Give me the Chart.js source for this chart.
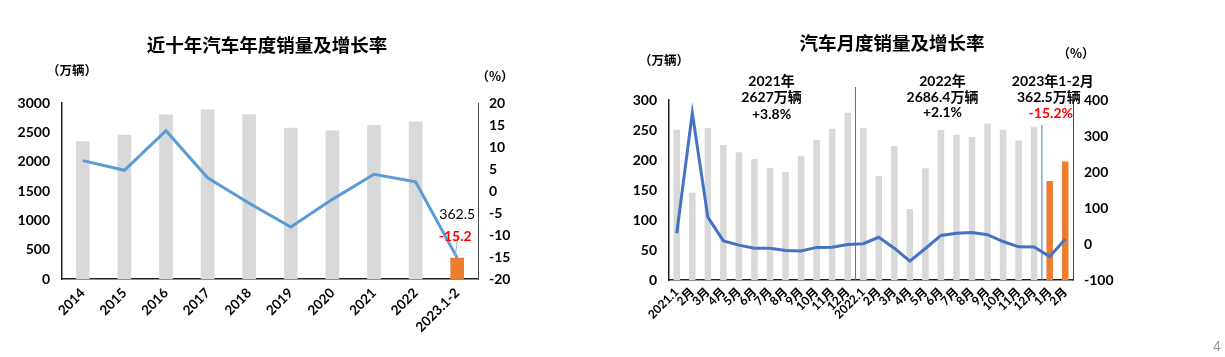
<!DOCTYPE html>
<html><head><meta charset="utf-8">
<script src="https://cdn.jsdelivr.net/npm/chart.js@4.4.0/dist/chart.umd.min.js"></script>
<style>
html,body{margin:0;padding:0;background:#fff;}
#wrap{position:relative;width:1225px;height:357px;overflow:hidden;}
#c1{position:absolute;left:0;top:0;}
#c2{position:absolute;left:610px;top:0;}
#pg{position:absolute;left:1213px;top:338px;font:14px 'Liberation Sans',sans-serif;color:#999;}
</style></head>
<body><div id="wrap">
<canvas id="c1" width="610" height="357"></canvas>
<canvas id="c2" width="615" height="357"></canvas>
<div id="pg">4</div>
</div>
<script>
// ---- Left chart data ----
const yearLabels = ['2014','2015','2016','2017','2018','2019','2020','2021','2022','2023.1-2'];
const yearSales = [2349, 2460, 2803, 2888, 2808, 2577, 2531, 2627, 2686, 362.5];
const yearGrowth = [6.9, 4.7, 13.7, 3.0, -2.8, -8.2, -1.9, 3.8, 2.1, -15.2];
const yearTicksLeft = [0, 500, 1000, 1500, 2000, 2500, 3000];
const yearTicksRight = [-20, -15, -10, -5, 0, 5, 10, 15, 20];

// ---- Right chart data ----
const monthLabels = ['2021.1','2月','3月','4月','5月','6月','7月','8月','9月','10月','11月','12月',
  '2022.1','2月','3月','4月','5月','6月','7月','8月','9月','10月','11月','12月','1月','2月'];
const monthSales = [250.3, 145.6, 253.3, 225.2, 212.8, 201.5, 186.4, 179.9, 207.1, 233.2, 252.2, 278.6,
  253.1, 173.7, 223.4, 118.1, 186.2, 250.2, 242.0, 238.3, 261.0, 250.5, 232.6, 255.6, 164.9, 197.6];
const monthGrowth = [29.9, 364.5, 74.6, 8.6, -3.1, -11.9, -11.9, -18.1, -19.6, -9.4, -9.1, -1.6,
  0.9, 18.7, -11.7, -47.6, -12.6, 23.8, 29.7, 32.1, 25.7, 6.9, -7.9, -8.4, -34.8, 13.5];
const monthTicksLeft = [0, 50, 100, 150, 200, 250, 300];
const monthTicksRight = [-100, 0, 100, 200, 300, 400];

const GRAY = '#D9D9D9', ORANGE = '#ED7D31';
const NUMFONT = "Lato, 'Noto Sans CJK SC', sans-serif";
const CJK = "'Noto Sans CJK SC', sans-serif";
const plain = v => String(v);

function txt(ctx, s, x, y, font, color, align) {
  ctx.save(); ctx.font = font; ctx.fillStyle = color || '#000';
  ctx.textAlign = align || 'center'; ctx.textBaseline = 'middle';
  ctx.fillText(s, x, y); ctx.restore();
}

// ---------- Left chart ----------
const leftDeco = {
  id: 'leftDeco',
  afterDraw(chart) {
    const ctx = chart.ctx;
    txt(ctx, '近十年汽车年度销量及增长率', 267, 45, "bold 18.5px " + CJK, '#000');
    txt(ctx, '（万辆）', 72, 70, "bold 12.5px " + CJK, '#000');
    txt(ctx, '（%）', 495, 76, "bold 12.5px " + CJK, '#000');
    const meta = chart.getDatasetMeta(1);
    const n = yearGrowth.length - 1;
    const p = meta.data[n];
    ctx.save(); ctx.strokeStyle = '#A6A6A6'; ctx.lineWidth = 1;
    ctx.beginPath(); ctx.moveTo(p.x - 2, p.y - 2); ctx.lineTo(p.x + 1, p.y - 23); ctx.stroke(); ctx.restore();
    txt(ctx, String(yearSales[n]), p.x, p.y - 43, "14px " + NUMFONT, '#000');
    txt(ctx, String(yearGrowth[n]), p.x - 2, p.y - 21, "bold 14px " + NUMFONT, '#FF0000');
  }
};

new Chart(document.getElementById('c1'), {
  data: {
    labels: yearLabels,
    datasets: [
      { type: 'bar', data: yearSales, yAxisID: 'y', order: 2,
        backgroundColor: yearSales.map((v, i) => i === yearSales.length - 1 ? ORANGE : GRAY),
        barPercentage: 0.33, categoryPercentage: 1.0 },
      { type: 'line', data: yearGrowth, yAxisID: 'y1', order: 1,
        borderColor: '#5B9BD5', borderWidth: 3, pointRadius: 0, tension: 0, fill: false }
    ]
  },
  options: {
    responsive: false, animation: false,
    layout: { padding: { top: 103, left: 0, right: 0, bottom: 0 } },
    plugins: { legend: { display: false }, tooltip: { enabled: false } },
    scales: {
      x: {
        grid: { display: false, drawTicks: false },
        border: { display: true, color: '#222', width: 1.5 },
        ticks: { color: '#000', font: { family: NUMFONT, size: 13.5, weight: 'bold' },
                 minRotation: 45, maxRotation: 45, padding: 6, autoSkip: false },
        afterFit(s) { s.height = 78; }
      },
      y: {
        position: 'left', min: 0, max: 3000,
        afterBuildTicks(s) { s.ticks = yearTicksLeft.map(v => ({ value: v })); },
        grid: { display: false, drawTicks: false },
        border: { display: true, color: '#222', width: 1.5 },
        ticks: { color: '#000', font: { family: NUMFONT, size: 14, weight: 'bold' }, padding: 12, callback: plain },
        afterFit(s) { s.width = 62; }
      },
      y1: {
        position: 'right', min: -20, max: 20,
        afterBuildTicks(s) { s.ticks = yearTicksRight.map(v => ({ value: v })); },
        grid: { display: false, drawTicks: false },
        border: { display: true, color: '#444', width: 1 },
        ticks: { color: '#000', font: { family: NUMFONT, size: 14, weight: 'bold' }, padding: 11, callback: plain },
        afterFit(s) { s.width = 132; }
      }
    }
  },
  plugins: [leftDeco]
});

// ---------- Right chart ----------
const rightDeco = {
  id: 'rightDeco',
  beforeDatasetsDraw(chart) {
    const ctx = chart.ctx, x = chart.scales.x, a = chart.chartArea;
    const s1 = (x.getPixelForValue(11) + x.getPixelForValue(12)) / 2;
    const s2 = (x.getPixelForValue(23) + x.getPixelForValue(24)) / 2;
    ctx.save(); ctx.strokeStyle = '#4472C4'; ctx.lineWidth = 1;
    ctx.beginPath(); ctx.moveTo(s1, 87); ctx.lineTo(s1, a.bottom);
    ctx.moveTo(s2, 125); ctx.lineTo(s2, a.bottom); ctx.stroke(); ctx.restore();
  },
  afterDraw(chart) {
    const ctx = chart.ctx, x = chart.scales.x;
    txt(ctx, '汽车月度销量及增长率', 282, 43, "bold 18.5px " + CJK, '#000');
    txt(ctx, '（万辆）', 54, 60, "bold 12.5px " + CJK, '#000');
    txt(ctx, '（%）', 466, 53, "bold 12.5px " + CJK, '#000');
    const f = "bold 14px " + NUMFONT;
    let cx = x.getPixelForValue(6.1);
    txt(ctx, '2021年', cx, 81, f); txt(ctx, '2627万辆', cx, 97, f); txt(ctx, '+3.8%', cx, 114, f);
    cx = x.getPixelForValue(17.1);
    txt(ctx, '2022年', cx, 81, f); txt(ctx, '2686.4万辆', cx, 97, f); txt(ctx, '+2.1%', cx, 112, f);
    cx = x.getPixelForValue(24.2);
    txt(ctx, '2023年1-2月', cx, 81, f); txt(ctx, '362.5万辆', cx - 4, 97, f);
    txt(ctx, '-15.2%', cx - 2, 113, f, '#FF0000');
  }
};

new Chart(document.getElementById('c2'), {
  data: {
    labels: monthLabels,
    datasets: [
      { type: 'bar', data: monthSales, yAxisID: 'y', order: 2,
        backgroundColor: monthSales.map((v, i) => i >= 24 ? ORANGE : GRAY),
        barPercentage: 0.42, categoryPercentage: 1.0 },
      { type: 'line', data: monthGrowth, yAxisID: 'y1', order: 1,
        borderColor: '#4472C4', borderWidth: 3, pointRadius: 0, tension: 0, fill: false }
    ]
  },
  options: {
    responsive: false, animation: false,
    layout: { padding: { top: 100, left: 0, right: 0, bottom: 0 } },
    plugins: { legend: { display: false }, tooltip: { enabled: false } },
    scales: {
      x: {
        grid: { display: false, drawTicks: false },
        border: { display: true, color: '#222', width: 1.5 },
        ticks: { color: '#000', font: { family: NUMFONT, size: 12, weight: 'bold' },
                 minRotation: 45, maxRotation: 45, padding: 5, autoSkip: false },
        afterFit(s) { s.height = 77; }
      },
      y: {
        position: 'left', min: 0, max: 300,
        afterBuildTicks(s) { s.ticks = monthTicksLeft.map(v => ({ value: v })); },
        grid: { display: false, drawTicks: false },
        border: { display: true, color: '#222', width: 1.5 },
        ticks: { color: '#000', font: { family: NUMFONT, size: 14, weight: 'bold' }, padding: 12, callback: plain },
        afterFit(s) { s.width = 59; }
      },
      y1: {
        position: 'right', min: -100, max: 400,
        afterBuildTicks(s) { s.ticks = monthTicksRight.map(v => ({ value: v })); },
        grid: { display: false, drawTicks: false },
        border: { display: true, color: '#444', width: 1 },
        ticks: { color: '#000', font: { family: NUMFONT, size: 14, weight: 'bold' }, padding: 11, callback: plain },
        afterFit(s) { s.width = 152; }
      }
    }
  },
  plugins: [rightDeco]
});
</script>
</body></html>
